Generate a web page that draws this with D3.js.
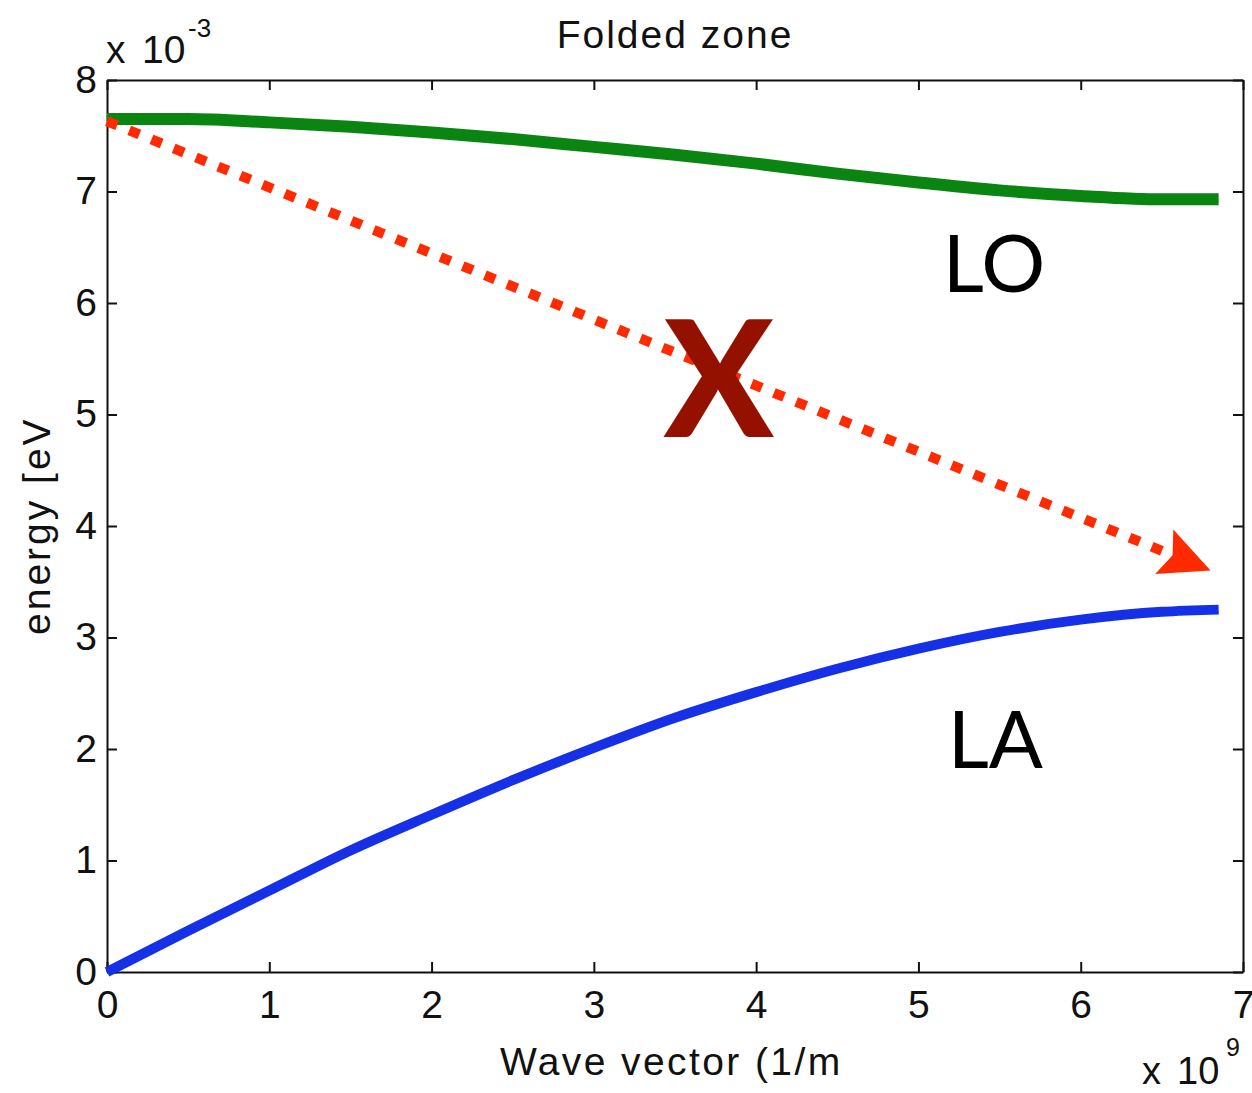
<!DOCTYPE html>
<html><head><meta charset="utf-8">
<script src="https://cdn.jsdelivr.net/npm/d3@7"></script>
<style>body{margin:0;background:#fff}</style>
</head><body><svg id="c" width="1252" height="1093"></svg>
<script>
// Wave vector in units of 1e9 1/m, energy in units of 1e-3 eV
const waveVector = [0, 0.5, 1, 1.5, 2, 2.5, 3, 3.5, 4, 4.5, 5, 5.5, 6, 6.5, 6.85];
const laEnergy   = [0, 0.37, 0.73, 1.09, 1.41, 1.72, 2.01, 2.28, 2.51, 2.72, 2.90, 3.05, 3.16, 3.23, 3.25];
const loEnergy   = [7.65, 7.65, 7.62, 7.58, 7.53, 7.47, 7.40, 7.33, 7.25, 7.16, 7.08, 7.01, 6.96, 6.93, 6.93];
const xTicks = [0, 1, 2, 3, 4, 5, 6, 7];
const yTicks = [0, 1, 2, 3, 4, 5, 6, 7, 8];
const arrowStart = [0, 7.63];
const arrowEnd = [6.80, 3.60];
const labels = [{text: "LO", k: 5.15, e: 6.10}, {text: "LA", k: 5.18, e: 1.83}];
const crossMark = {text: "X", k: 3.77, e: 4.8};

const svg = d3.select("#c");
const L = 107, R = 1243, T = 80, B = 972;
const x = d3.scaleLinear().domain([0, 7]).range([L, R]);
const y = d3.scaleLinear().domain([0, 8]).range([B, T]);
const tickFont = "'Liberation Sans', Arial, sans-serif";

function styleAxis(g) {
  g.select(".domain").attr("stroke", "#111").attr("stroke-width", 2);
  g.selectAll(".tick line").attr("stroke", "#111").attr("stroke-width", 2);
  g.selectAll(".tick text").attr("font-family", tickFont).attr("font-size", 39).attr("fill", "#111");
}
svg.append("g").attr("transform", `translate(0,${B})`)
  .call(d3.axisBottom(x).tickValues(xTicks).tickSizeInner(-10).tickSizeOuter(0).tickPadding(18).tickFormat(d3.format("d")))
  .call(styleAxis);
svg.append("g").attr("transform", `translate(0,${T})`)
  .call(d3.axisTop(x).tickValues(xTicks).tickSizeInner(-10).tickSizeOuter(0).tickFormat(""))
  .call(styleAxis);
svg.append("g").attr("transform", `translate(${L},0)`)
  .call(d3.axisLeft(y).tickValues(yTicks).tickSizeInner(-10).tickSizeOuter(0).tickPadding(10).tickFormat(d3.format("d")))
  .call(styleAxis);
svg.append("g").attr("transform", `translate(${R},0)`)
  .call(d3.axisRight(y).tickValues(yTicks).tickSizeInner(-10).tickSizeOuter(0).tickFormat(""))
  .call(styleAxis);

// curves
const line = d3.line().x((d, i) => x(waveVector[i])).y(d => y(d)).curve(d3.curveMonotoneX);
svg.append("path").datum(loEnergy).attr("d", line).attr("fill", "none")
  .attr("stroke", "#0a8512").attr("stroke-width", 12);
svg.append("path").datum(laEnergy).attr("d", line).attr("fill", "none")
  .attr("stroke", "#1530e6").attr("stroke-width", 10);

// dotted arrow
const x0 = x(arrowStart[0]), y0 = y(arrowStart[1]), x1 = x(arrowEnd[0]), y1 = y(arrowEnd[1]);
const ang = Math.atan2(y1 - y0, x1 - x0);
const headLen = 50, headW = 48;
const bx = x1 - headLen * Math.cos(ang), by = y1 - headLen * Math.sin(ang);
svg.append("line").attr("x1", x0).attr("y1", y0)
  .attr("x2", x1 - (headLen - 6) * Math.cos(ang)).attr("y2", y1 - (headLen - 6) * Math.sin(ang))
  .attr("stroke", "#ff2a00").attr("stroke-width", 10).attr("stroke-dasharray", "11,13");
const px = -Math.sin(ang), py = Math.cos(ang);
svg.append("path")
  .attr("d", `M${x1},${y1}L${bx + px * headW / 2},${by + py * headW / 2}L${bx + 9 * Math.cos(ang)},${by + 9 * Math.sin(ang)}L${bx - px * headW / 2},${by - py * headW / 2}Z`)
  .attr("fill", "#ff2a00");

// big X
svg.append("text").attr("x", x(crossMark.k)).attr("y", y(crossMark.e))
  .attr("text-anchor", "middle").attr("font-family", "Lato, sans-serif").attr("font-weight", 900)
  .attr("font-size", 162).attr("fill", "#941100").text(crossMark.text);

// LO / LA labels
svg.selectAll("text.lbl").data(labels).enter().append("text").attr("class", "lbl")
  .attr("x", d => x(d.k)).attr("y", d => y(d.e))
  .attr("font-family", "Lato, sans-serif").attr("font-size", 80).attr("fill", "#000").text(d => d.text);

// titles
svg.append("text").attr("x", 675).attr("y", 48).attr("text-anchor", "middle")
  .attr("font-family", tickFont).attr("font-size", 39).attr("letter-spacing", 2).attr("fill", "#111").text("Folded zone");
svg.append("text").attr("x", 500).attr("y", 1075)
  .attr("font-family", tickFont).attr("font-size", 39).attr("letter-spacing", 2.4).attr("fill", "#111").text("Wave vector (1/m");
svg.append("text").attr("transform", "translate(50,635) rotate(-90)")
  .attr("font-family", tickFont).attr("font-size", 39).attr("letter-spacing", 3).attr("fill", "#111").text("energy [eV");

// exponent labels
const e1 = svg.append("text").attr("y", 63).attr("font-family", tickFont).attr("font-size", 39).attr("fill", "#111");
e1.append("tspan").attr("x", 106).text("x");
e1.append("tspan").attr("x", 142).text("10");
e1.append("tspan").attr("x", 188).attr("font-size", 26).attr("dy", -26).text("-3");
const e2 = svg.append("text").attr("y", 1084).attr("font-family", tickFont).attr("font-size", 38).attr("fill", "#111");
e2.append("tspan").attr("x", 1142).text("x");
e2.append("tspan").attr("x", 1177).text("10");
e2.append("tspan").attr("x", 1226).attr("font-size", 25).attr("dy", -28).text("9");
</script></body></html>
